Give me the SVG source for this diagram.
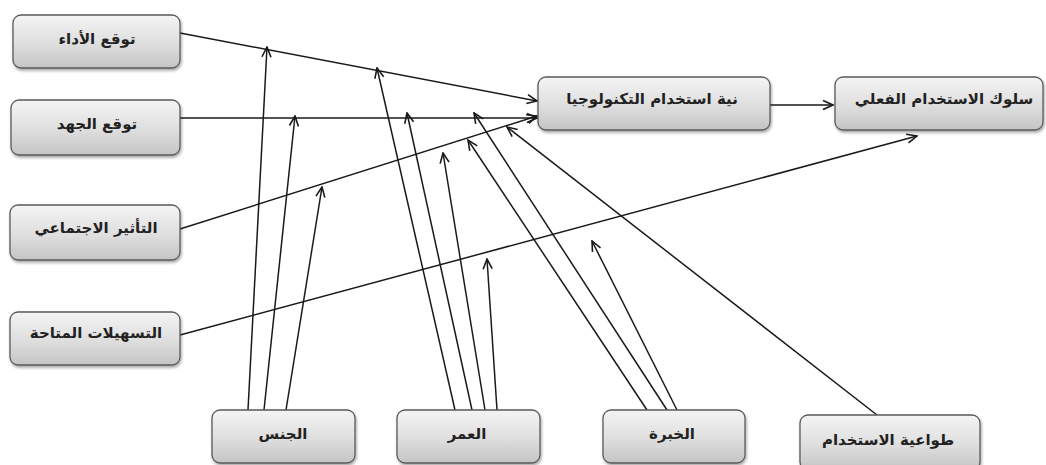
<svg xmlns="http://www.w3.org/2000/svg" width="1046" height="465" viewBox="0 0 1046 465">
<defs>
<linearGradient id="g" x1="0" y1="0" x2="0" y2="1">
<stop offset="0" stop-color="#f4f4f4"/>
<stop offset="0.55" stop-color="#dedede"/>
<stop offset="1" stop-color="#c4c4c4"/>
</linearGradient>
<filter id="sh" x="-10%" y="-10%" width="125%" height="140%">
<feDropShadow dx="1" dy="2" stdDeviation="1.5" flood-color="#000" flood-opacity="0.35"/>
</filter>
<marker id="ar" viewBox="0 0 12 12" refX="11" refY="6" markerWidth="12" markerHeight="12" markerUnits="userSpaceOnUse" orient="auto">
<path d="M1,1.5 L11,6 L1,10.5" fill="none" stroke="#1a1a1a" stroke-width="1.6"/>
</marker>
</defs>
<style>
.box{fill:url(#g);stroke:#5a5a5a;stroke-width:1.3;filter:url(#sh)}
.t{font-family:"DejaVu Sans","Noto Sans",sans-serif;font-weight:bold;font-size:15px;fill:#222;text-anchor:middle}
.c line{stroke:#1a1a1a;stroke-width:1.5;marker-end:url(#ar)}
</style>
<rect width="1046" height="465" fill="#fff"/>
<g class="c" id="connectors">
<line x1="180" y1="33" x2="537" y2="101"/>
<line x1="180" y1="118" x2="537" y2="118"/>
<line x1="180" y1="229" x2="537" y2="116"/>
<line x1="180" y1="335" x2="917" y2="136"/>
<line x1="770" y1="105" x2="833" y2="105"/>
<line x1="877" y1="415" x2="507" y2="127"/>
<line x1="248" y1="410" x2="267" y2="47"/>
<line x1="264" y1="410" x2="295" y2="116"/>
<line x1="286" y1="410" x2="322" y2="187"/>
<line x1="455" y1="410" x2="377" y2="68"/>
<line x1="472" y1="410" x2="407" y2="113"/>
<line x1="485" y1="410" x2="443" y2="153"/>
<line x1="497" y1="410" x2="487" y2="259"/>
<line x1="647" y1="410" x2="468" y2="140"/>
<line x1="667" y1="410" x2="474" y2="113"/>
<line x1="677" y1="410" x2="592" y2="241"/>
</g>
<g id="n1"><rect class="box" x="13" y="15" width="167" height="53" rx="8"/><text class="t" x="97" y="44">توقع الأداء</text></g>
<g id="n2"><rect class="box" x="11" y="100" width="169" height="55" rx="8"/><text class="t" x="97" y="129">توقع الجهد</text></g>
<g id="n3"><rect class="box" x="10" y="205" width="170" height="55" rx="8"/><text class="t" x="96" y="233">التأثير الاجتماعي</text></g>
<g id="n4"><rect class="box" x="10" y="312" width="170" height="53" rx="8"/><text class="t" x="96" y="338">التسهيلات المتاحة</text></g>
<g id="n5"><rect class="box" x="538" y="77" width="232" height="53" rx="8"/><text class="t" x="652" y="104">نية استخدام التكنولوجيا</text></g>
<g id="n6"><rect class="box" x="835" y="77" width="208" height="53" rx="8"/><text class="t" x="944" y="104">سلوك الاستخدام الفعلي</text></g>
<g id="n7"><rect class="box" x="212" y="410" width="143" height="53" rx="8"/><text class="t" x="283" y="439">الجنس</text></g>
<g id="n8"><rect class="box" x="397" y="410" width="143" height="53" rx="8"/><text class="t" x="467" y="439">العمر</text></g>
<g id="n9"><rect class="box" x="603" y="410" width="142" height="53" rx="8"/><text class="t" x="672" y="439">الخبرة</text></g>
<g id="n10"><rect class="box" x="800" y="415" width="180" height="55" rx="8"/><text class="t" x="888" y="445">طواعية الاستخدام</text></g>
</svg>
